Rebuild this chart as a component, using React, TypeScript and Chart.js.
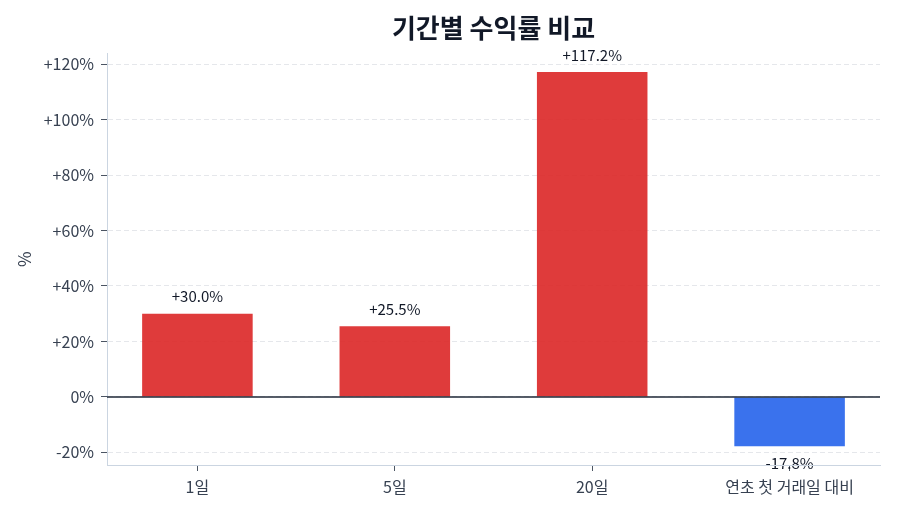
import { useEffect, useRef } from 'react';
import { Chart, registerables, Plugin } from 'chart.js';

Chart.register(...registerables);

// 데이터
const periods = ['1일', '5일', '20일', '연초 첫 거래일 대비'];
const returns = [30.0, 25.5, 117.2, -17.8];
const yTicks = [-20, 0, 20, 40, 60, 80, 100, 120];

const FONT = '"Noto Sans CJK KR", "Noto Sans", sans-serif';
const UP = 'rgba(220, 38, 38, 0.9)';
const DOWN = 'rgba(37, 99, 235, 0.9)';
const AXIS = '#cbd5e1';
const TEXT = '#374151';

const pct = (v: number) => (v > 0 ? `+${v}%` : `${v}%`);

// 0% 선 + 막대 값 라벨
const labelPlugin: Plugin<'bar'> = {
  id: 'barLabels',
  afterDatasetsDraw(chart) {
    const { ctx, chartArea, scales } = chart;
    const y0 = scales.y.getPixelForValue(0);
    ctx.save();
    ctx.strokeStyle = '#1f2937';
    ctx.lineWidth = 1.5;
    ctx.beginPath();
    ctx.moveTo(chartArea.left, y0);
    ctx.lineTo(chartArea.right, y0);
    ctx.stroke();

    ctx.font = `15px ${FONT}`;
    ctx.fillStyle = '#111827';
    ctx.textAlign = 'center';
    ctx.textBaseline = 'middle';
    chart.getDatasetMeta(0).data.forEach((bar: any, i) => {
      const v = returns[i];
      const txt = (v > 0 ? '+' : '') + v.toFixed(1) + '%';
      ctx.fillText(txt, bar.x, v >= 0 ? bar.y - 17 : bar.y + 17);
    });

    // x축 선을 라벨 위에 다시 그림
    ctx.strokeStyle = AXIS;
    ctx.lineWidth = 1;
    ctx.beginPath();
    ctx.moveTo(chartArea.left, chartArea.bottom + 0.5);
    ctx.lineTo(chartArea.right, chartArea.bottom + 0.5);
    ctx.stroke();
    ctx.restore();
  },
};

export default function App() {
  const canvasRef = useRef<HTMLCanvasElement>(null);
  const chartRef = useRef<Chart | null>(null);

  useEffect(() => {
    document.body.style.margin = '0';
    if (!canvasRef.current) return;
    if (chartRef.current) chartRef.current.destroy();

    chartRef.current = new Chart(canvasRef.current, {
      type: 'bar',
      data: {
        datasets: [{
          data: returns.map((v, i) => ({ x: i, y: v })),
          backgroundColor: returns.map(v => (v >= 0 ? UP : DOWN)),
          borderWidth: 0,
          barPercentage: 0.56,
          categoryPercentage: 1,
        }],
      },
      options: {
        animation: false,
        responsive: true,
        maintainAspectRatio: false,
        layout: { padding: { right: 20 } },
        plugins: {
          legend: { display: false },
          tooltip: { enabled: false },
          title: {
            display: true,
            text: '기간별 수익률 비교',
            fullSize: false,
            color: '#111827',
            font: { family: FONT, size: 26, weight: 'bold' },
            padding: { top: 13, bottom: 9 },
          },
        },
        scales: {
          x: {
            type: 'linear',
            min: -0.458,
            max: 3.458,
            offset: false,
            afterBuildTicks: (s: any) => { s.ticks = periods.map((_, i) => ({ value: i })); },
            afterFit: (s: any) => { s.height = 49; },
            ticks: {
              color: TEXT,
              font: { family: FONT, size: 16 },
              padding: 6,
              maxRotation: 0,
              autoSkip: false,
              callback: (v: any) => periods[v] ?? '',
            },
            grid: { drawOnChartArea: false, offset: false, tickLength: 6, tickColor: '#4b5563' },
            border: { color: AXIS },
          },
          y: {
            min: -24.55,
            max: 123.95,
            afterBuildTicks: (s: any) => { s.ticks = yTicks.map(v => ({ value: v })); },
            afterFit: (s: any) => { s.width = 107; },
            ticks: {
              color: TEXT,
              font: { family: FONT, size: 16 },
              padding: 7,
              callback: (v: any) => pct(v),
            },
            grid: { color: '#e5e7eb', tickLength: 6, tickColor: '#4b5563', tickBorderDash: [] },
            border: { color: AXIS, dash: [5, 3] },
            title: {
              display: true,
              text: '%',
              color: TEXT,
              font: { family: FONT, size: 17 },
              padding: { top: 14, bottom: 0 },
            },
          },
        },
      },
      plugins: [labelPlugin],
    });

    return () => {
      if (chartRef.current) chartRef.current.destroy();
      chartRef.current = null;
    };
  }, []);

  return (
    <div style={{ width: 900, height: 514, position: 'relative' }}>
      <canvas ref={canvasRef}></canvas>
    </div>
  );
}
